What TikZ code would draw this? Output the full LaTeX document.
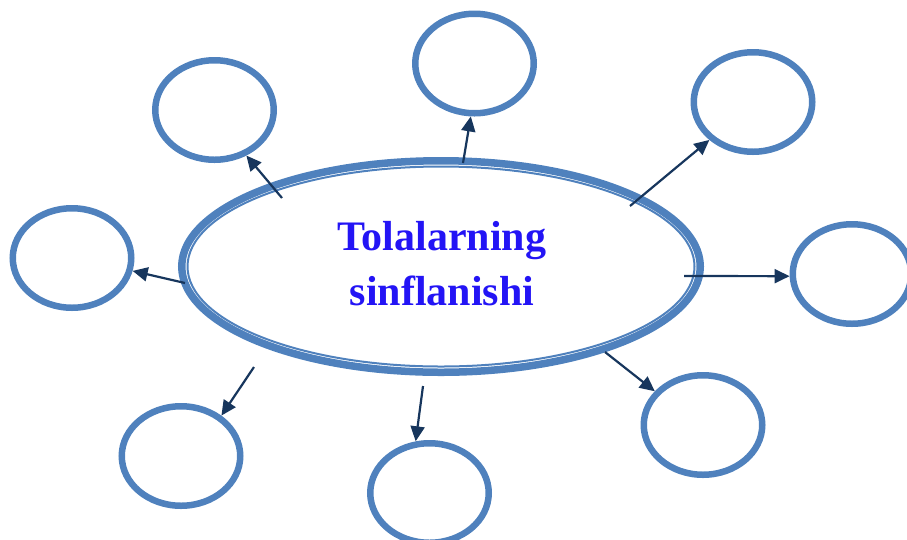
\documentclass[tikz,border=0pt]{standalone}
\usepackage{fontspec}
\setmainfont{Liberation Serif}
\usetikzlibrary{shapes.geometric,arrows.meta}
\definecolor{eblue}{RGB}{79,129,189}
\definecolor{anavy}{RGB}{23,54,93}
\definecolor{tblue}{RGB}{35,20,245}
\tikzset{
  leaf/.style={ellipse,draw=eblue,line width=6.5pt,minimum width=118.5pt,minimum height=99.5pt,inner sep=0pt},
  conn/.style={draw=anavy,line width=2.2pt,-{Triangle[length=15pt,width=14pt]}},
}
\begin{document}
\begin{tikzpicture}[x=1pt,y=-1pt]
\useasboundingbox (0,0) rectangle (907,539);
% central ellipse
\node[ellipse,draw=eblue,line width=7.5pt,minimum width=518.5pt,minimum height=211.5pt,inner sep=0pt] (hub) at (441,266.5) {};
\node[ellipse,draw=eblue,line width=2pt,minimum width=507pt,minimum height=200pt,inner sep=0pt] (hubin) at (441,266.5) {};
\node[align=center,text=tblue,font=\fontsize{42}{55}\selectfont\bfseries] (title) at (442,264) {Tolalarning\\sinflanishi};
% leaves
\node[leaf] (tl) at (214.5,110) {};
\node[leaf] (tp) at (474.5,63.5) {};
\node[leaf] (tr) at (753,102) {};
\node[leaf] (lf) at (72,258) {};
\node[leaf] (rt) at (852,274) {};
\node[leaf] (bl) at (181,456) {};
\node[leaf] (bt) at (429.5,493) {};
\node[leaf] (br) at (703,425) {};
% start points
\coordinate (s1) at (282,198);
\coordinate (s2) at (463,163);
\coordinate (s3) at (630,206);
\coordinate (s4) at (185,283);
\coordinate (s5) at (684,276);
\coordinate (s6) at (254,367);
\coordinate (s7) at (423,386);
\coordinate (s8) at (605,352);
% connectors
\draw[conn] (s1) -- (tl.-55);
\draw[conn] (s2) -- (tp.-94);
\draw[conn] (s3) -- (tr.-139);
\draw[conn] (s4) -- (lf.-12);
\draw[conn] (s5) -- (rt.-178);
\draw[conn] (s6) -- (bl.45);
\draw[conn] (s7) -- (bt.105);
\draw[conn] (s8) -- (br.145);
\end{tikzpicture}
\end{document}
